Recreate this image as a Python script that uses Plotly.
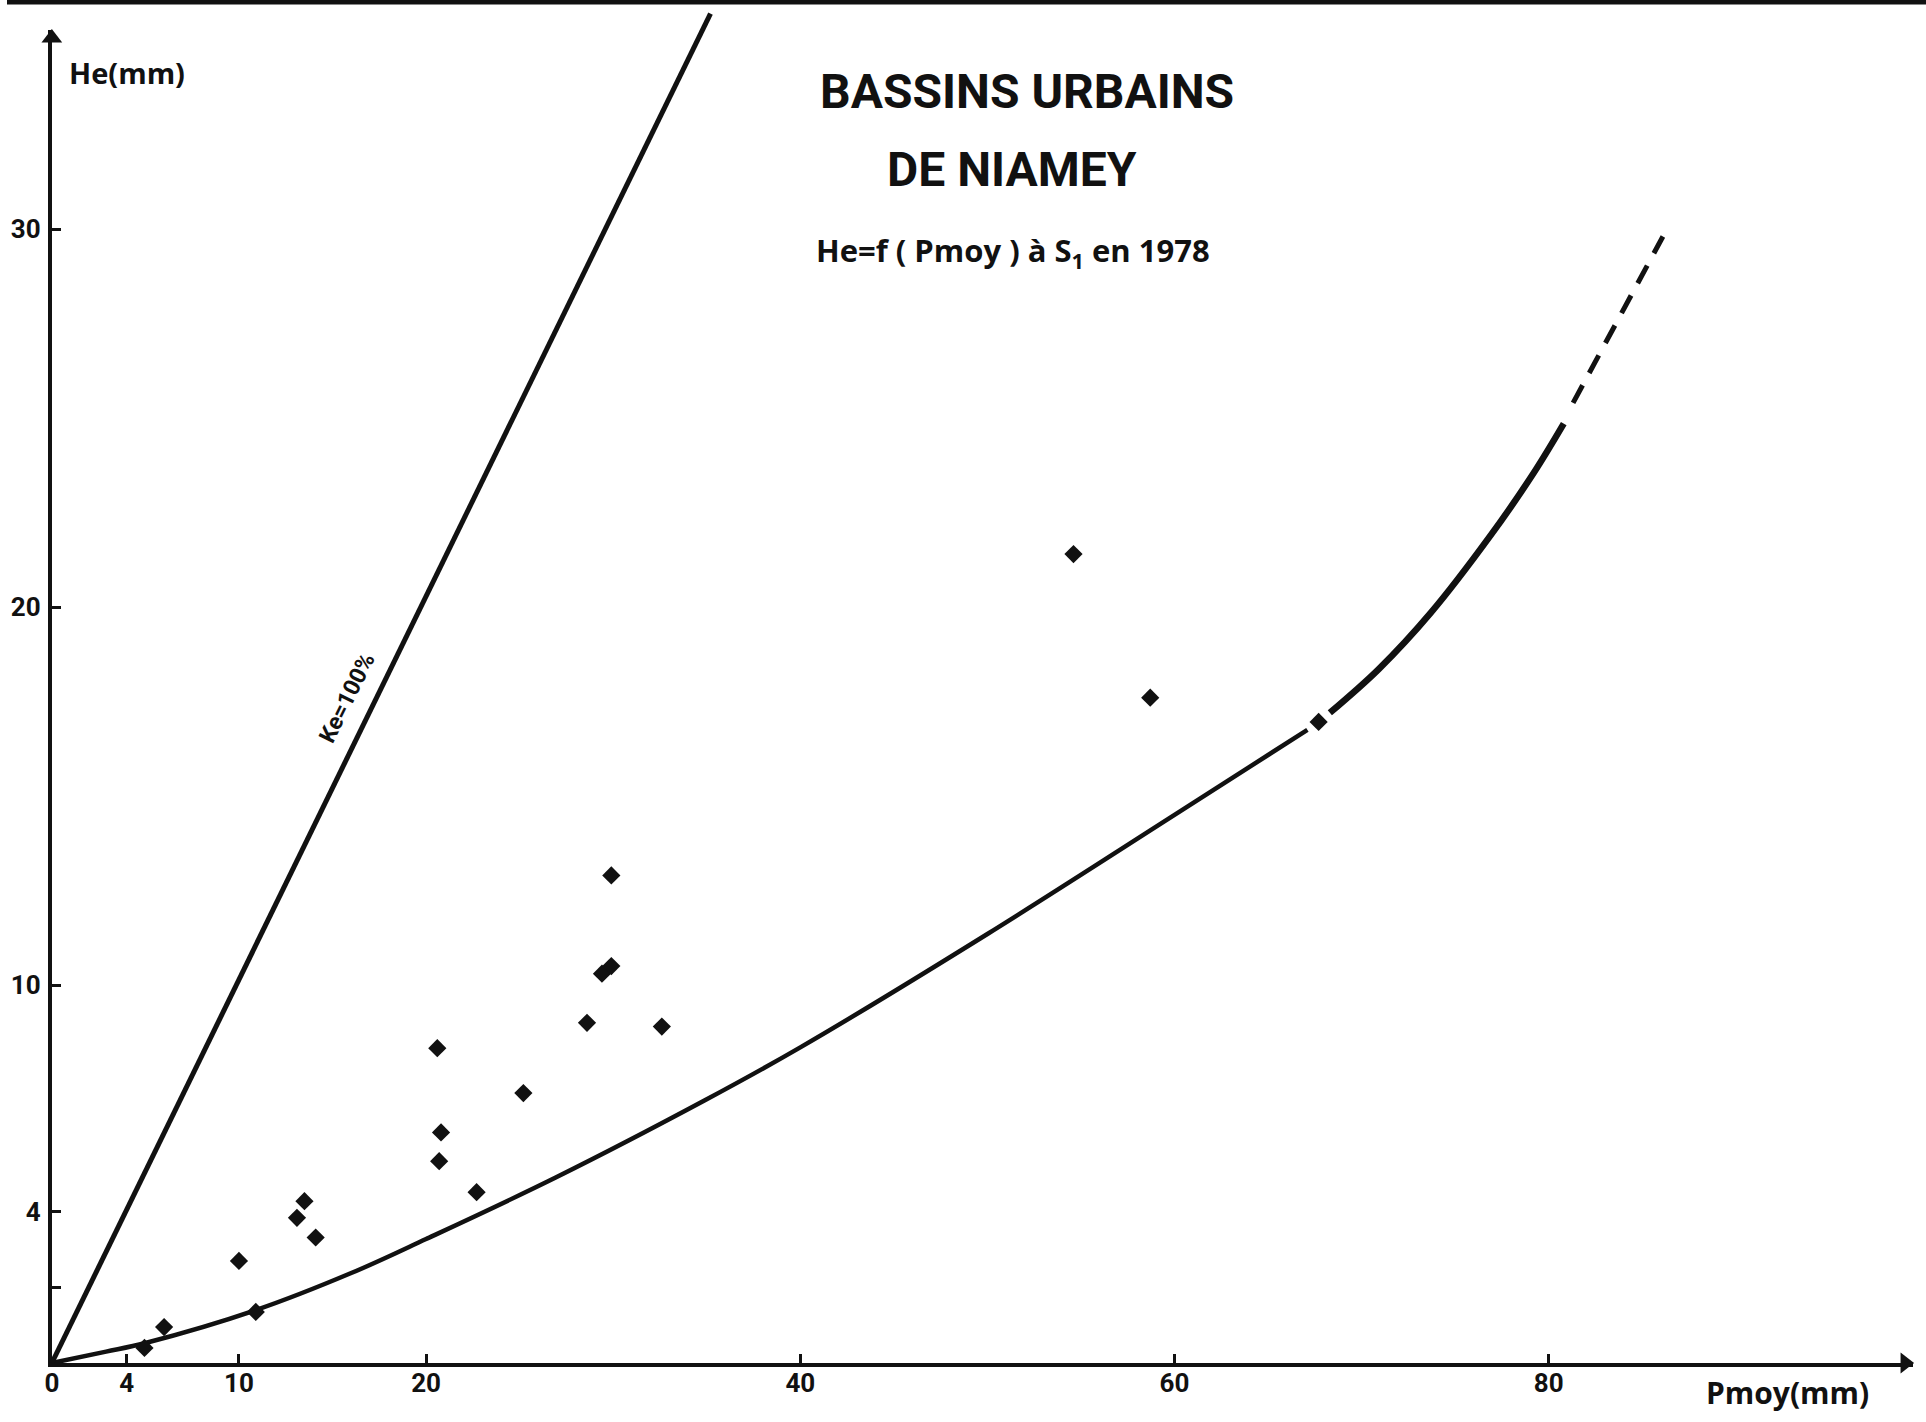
import plotly.graph_objects as go

# ---- observed points: Pmoy (mm) vs He (mm), station S1, 1978 ----
pmoy = [4.95, 6.0, 10.0, 10.9, 13.1, 13.5, 14.1, 20.6, 20.8, 20.7, 22.7, 25.2,
        28.6, 29.4, 29.9, 29.9, 32.6, 54.6, 58.7, 67.7]
he = [0.40, 0.95, 2.7, 1.35, 3.84, 4.28, 3.32, 8.33, 6.1, 5.34, 4.52, 7.14,
      9.0, 10.3, 10.5, 12.9, 8.9, 21.4, 17.6, 16.96]

# ---- adjusted curve He = f(Pmoy), drawn in three parts ----
curve_x = [0, 2.9, 5.0, 10.9, 16.0, 20.0, 26.9, 34.9, 40.0, 50.0, 60.0, 67.1]
curve_y = [0, 0.30, 0.53, 1.40, 2.38, 3.28, 4.90, 6.95, 8.35, 11.35, 14.5, 16.75]
upper_x = [68.3, 70.9, 73.7, 76.9, 79.2, 80.8]
upper_y = [17.2, 18.35, 19.85, 21.9, 23.55, 24.85]
extrap_x = [81.3, 83.7, 86.1]
extrap_y = [25.4, 27.6, 29.8]

# ---- total runoff line Ke = 100 % ----
ke_x = [0, 35.2]
ke_y = [0, 35.7]

# ---- axis ticks ----
x_ticks = [0, 4, 10, 20, 40, 60, 80]
x_labels = ["0", "4", "10", "20", "40", "60", "80"]
y_ticks = [4, 10, 20, 30]
y_labels = ["4", "10", "20", "30"]
y_minor = [2]

INK = "#111111"
W, H = 1926, 1422
HEAVY = "Roboto, Open Sans, DejaVu Sans, sans-serif"
ROUND = "Open Sans, DejaVu Sans, sans-serif"

# pixel geometry of the frame
ox, oy = 45, 1363          # origin
x_end, y_end = 1913, 30    # arrow tips
px_x, px_y = 18.78, 37.8   # pixels per mm on each axis
head = 8                   # half length of an arrowhead, px

fig = go.Figure()

fig.add_trace(go.Scatter(x=curve_x, y=curve_y, mode="lines",
                         line=dict(color=INK, width=4.5, shape="spline")))
fig.add_trace(go.Scatter(x=upper_x, y=upper_y, mode="lines",
                         line=dict(color=INK, width=6.5, shape="spline")))
fig.add_trace(go.Scatter(x=extrap_x, y=extrap_y, mode="lines",
                         line=dict(color=INK, width=5, dash="20px,14px")))
fig.add_trace(go.Scatter(x=pmoy, y=he, mode="markers",
                         marker=dict(symbol="diamond", size=14, color=INK),
                         cliponaxis=False))
fig.add_trace(go.Scatter(x=ke_x, y=ke_y, mode="lines", xaxis="x2", yaxis="y2",
                         line=dict(color=INK, width=5)))

# arrowheads closing both axes
fig.add_trace(go.Scatter(
    x=[(x_end - head - ox) / px_x, 0],
    y=[0, (oy - y_end - head) / px_y],
    mode="markers", xaxis="x2", yaxis="y2",
    marker=dict(symbol=["triangle-right", "triangle-up"], size=18, color=INK)))

tick_font = dict(family=HEAVY, size=26, color=INK)
axis_common = dict(showline=True, linecolor=INK, linewidth=4, ticks="inside",
                   tickcolor=INK, tickwidth=3, ticklen=9, showgrid=False,
                   zeroline=False, fixedrange=True, tickfont=tick_font)

fig.update_layout(
    width=W, height=H,
    margin=dict(l=0, r=0, t=0, b=0),
    paper_bgcolor="white", plot_bgcolor="rgba(0,0,0,0)",
    showlegend=False,
    xaxis=dict(domain=[ox / W, x_end / W], range=[0, (x_end - ox) / px_x],
               tickvals=x_ticks, ticktext=[f"<b>{t}</b>" for t in x_labels],
               anchor="y", ticklabelstandoff=-6, **axis_common),
    yaxis=dict(domain=[(H - oy) / H, (H - y_end) / H],
               range=[0, (oy - y_end) / px_y],
               tickvals=y_ticks, ticktext=[f"<b>{t}</b>" for t in y_labels],
               minor=dict(tickvals=y_minor, ticks="inside", ticklen=9,
                          tickwidth=3, tickcolor=INK, showgrid=False),
               anchor="x", ticklabelstandoff=2, **axis_common),
    xaxis2=dict(domain=[0, 1], range=[-ox / px_x, (W - ox) / px_x],
                visible=False, anchor="y2", fixedrange=True),
    yaxis2=dict(domain=[0, 1], range=[-(H - oy) / px_y, oy / px_y],
                visible=False, anchor="x2", fixedrange=True),
)


def label(px, py, text, family, size, angle=0):
    return dict(x=px / W, y=1 - py / H, xref="paper", yref="paper", text=text,
                showarrow=False, xanchor="center", yanchor="middle",
                textangle=angle, font=dict(family=family, size=size, color=INK))


annotations = [
    # axis titles
    label(120, 73, "<b>He(mm)</b>", ROUND, 29),
    label(1787, 1392, "<b>Pmoy(mm)</b>", ROUND, 30),
    # title block
    label(1024, 92, "<b>BASSINS URBAINS</b>", HEAVY, 48),
    label(1009, 170, "<b>DE NIAMEY</b>", HEAVY, 48),
    label(1010, 252, "<b>He=f ( Pmoy ) à S<sub>1</sub> en 1978</b>", ROUND, 31),
]

# label along the Ke = 100 % line
annotations.append(dict(x=15.8, y=17.6, xref="x2", yref="y2", text="<b>Ke=100%</b>",
                        showarrow=False, textangle=-63.6,
                        xanchor="center", yanchor="middle",
                        font=dict(family=HEAVY, size=23, color=INK)))

fig.update_layout(annotations=annotations)

# heavy rule along the top edge of the sheet
fig.add_shape(type="line", xref="paper", yref="paper", x0=0, x1=1,
              y0=1 - 2 / H, y1=1 - 2 / H, line=dict(color=INK, width=5))

fig.write_html("out.html")
